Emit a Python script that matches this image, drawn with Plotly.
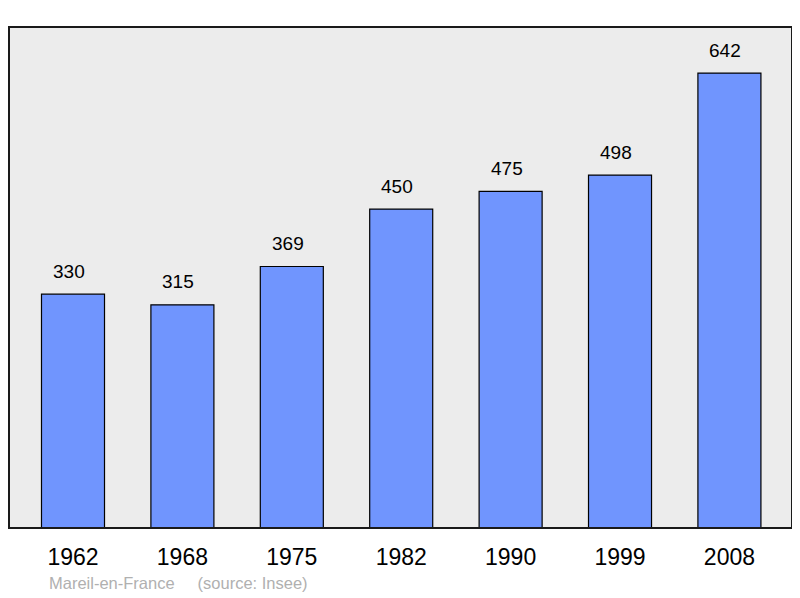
import plotly.graph_objects as go

years = ["1962", "1968", "1975", "1982", "1990", "1999", "2008"]
population = [330, 315, 369, 450, 475, 498, 642]
source_text = "Mareil-en-France     (source: Insee)"

FONT = "Liberation Sans, Arial, sans-serif"

fig = go.Figure()
fig.add_trace(go.Bar(
    x=list(range(len(years))), y=population, width=0.576,
    marker=dict(color="#7095fe", line=dict(color="#000000", width=1.2)),
    hoverinfo="skip",
))
for i, v in enumerate(population):
    fig.add_annotation(x=i, y=v, text=str(v), showarrow=False, yanchor="middle",
                       yshift=23, xshift=-4, font=dict(family=FONT, size=19, color="#000"))

fig.add_annotation(x=0, xref="paper", xanchor="left", xshift=38, y=0, yref="paper",
                   yanchor="middle", yshift=-55, text=source_text, showarrow=False,
                   font=dict(family=FONT, size=16.5, color="#b0b0b0"))

fig.add_shape(type="rect", xref="paper", yref="paper", x0=0, x1=1, y0=0, y1=1,
              line=dict(color="#1a1a1a", width=2), layer="above")

fig.update_layout(
    width=792, height=590,
    margin=dict(l=1, r=8, t=19, b=70),
    paper_bgcolor="#ffffff", plot_bgcolor="#ececec",
    showlegend=False,
    xaxis=dict(range=[-0.585, 6.572], showgrid=False, zeroline=False,
               tickmode="array", tickvals=list(range(len(years))), ticktext=years,
               ticks="outside", ticklen=8, tickcolor="rgba(0,0,0,0)",
               tickfont=dict(family=FONT, size=23, color="#000")),
    yaxis=dict(range=[0, 707], showgrid=False, zeroline=False, showticklabels=False),
)
fig.write_html("out.html")
